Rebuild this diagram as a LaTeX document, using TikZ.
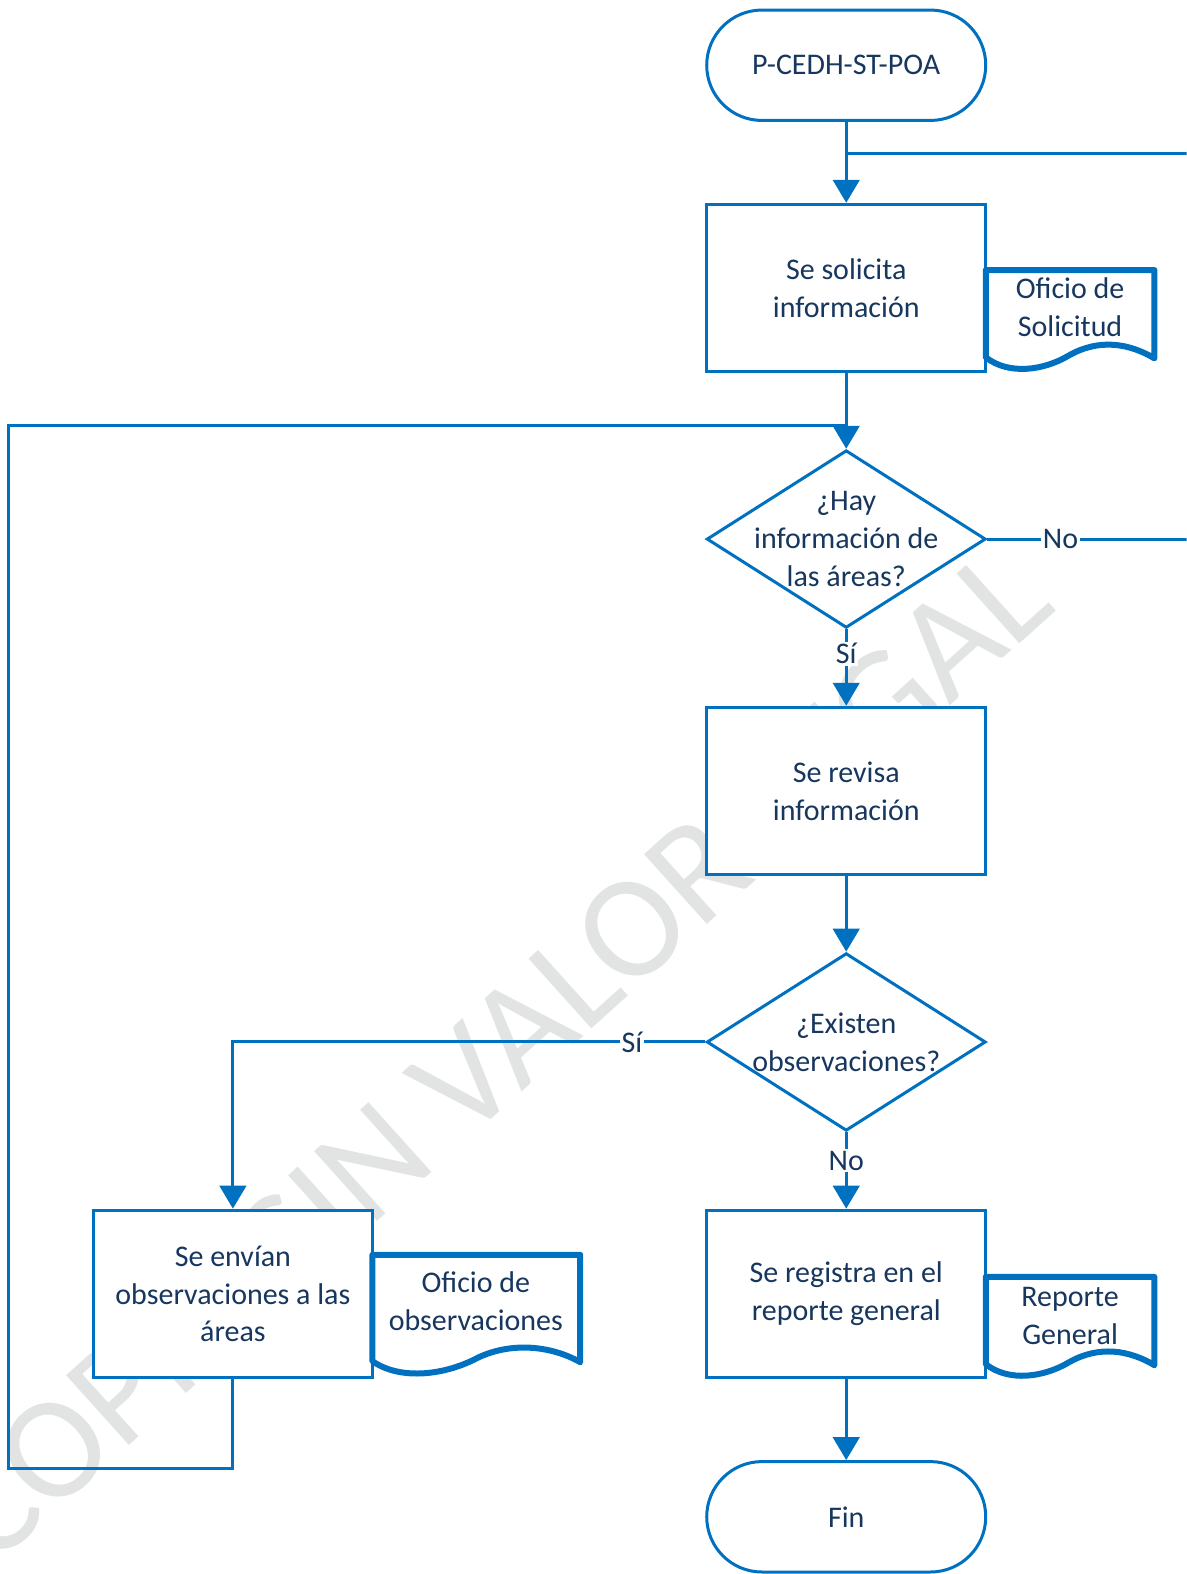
\documentclass[tikz,border=0pt]{standalone}
\usepackage{fontspec}
\setmainfont{Carlito}
\usetikzlibrary{arrows.meta,shapes.geometric}
\definecolor{fblue}{HTML}{0070C0}
\definecolor{ftext}{HTML}{17375E}
\definecolor{wm}{HTML}{E2E3E3}
\begin{document}
\begin{tikzpicture}[x=0.02cm,y=-0.02cm,
 every node/.style={font=\fontsize{17}{21.5}\selectfont, text=ftext, align=center},
 boxstyle/.style={draw=fblue, line width=1.7pt, fill=white, minimum width=5.56cm, minimum height=3.34cm, inner sep=0pt},
 termstyle/.style={draw=fblue, line width=1.7pt, fill=white, minimum width=5.56cm, minimum height=2.2cm, rounded corners=1.1cm},
 diastyle/.style={diamond, draw=fblue, line width=1.7pt, fill=white, minimum width=5.56cm, minimum height=3.54cm, inner sep=0pt},
 conn/.style={draw=fblue, line width=1.7pt},
 arr/.style={conn, -{Triangle[width=15pt,length=13pt]}},
 lbl/.style={fill=white, inner sep=1pt},
 docline/.style={draw=fblue, line width=3.4pt, fill=white, line join=round},
 wmstyle/.style={rotate=42, text=wm, font=\fontsize{83}{86}\selectfont},
]
\useasboundingbox (0,0) rectangle (1182,1568);
\clip (0,0) rectangle (1182,1568);
\node[wmstyle] (wmk) at (492,1050) {COPIA SIN VALOR LEGAL};

\node[termstyle] (start) at (843,65) {P-CEDH-ST-POA};
\node[boxstyle] (b1) at (843,287) {Se solicita\\información};
\node[diastyle] (d1) at (843,537) {};
\node (t1) at (d1.center) {¿Hay\\información de\\las áreas?};
\node[boxstyle] (b2) at (843,788) {Se revisa\\información};
\node[diastyle] (d2) at (843,1038) {};
\node (t2) at (d2.center) {¿Existen\\observaciones?};
\node[boxstyle] (b3) at (232,1289) {Se envían\\observaciones a las\\áreas};
\node[boxstyle] (b4) at (843,1289) {Se registra en el\\reporte general};
\node[termstyle] (fin) at (843,1511) {Fin};

% documents
\draw[docline] (982,269) -- (1150,269) -- (1150,357) .. controls (1125,342) and (1095,337) .. (1065,354) .. controls (1040,369) and (1005,374) .. (982,356) -- cycle;
\node (o1) at (1066,306) {Oficio de\\Solicitud};
\draw[docline] (371,1250) -- (578,1250) -- (578,1357) .. controls (550,1341) and (510,1336) .. (475,1353) .. controls (445,1369) and (400,1376) .. (371,1356) -- cycle;
\node (o2) at (474,1296) {Oficio de\\observaciones};
\draw[docline] (982,1272) -- (1150,1272) -- (1150,1360) .. controls (1125,1345) and (1095,1340) .. (1065,1357) .. controls (1040,1372) and (1005,1377) .. (982,1359) -- cycle;
\node (o3) at (1066,1311) {Reporte\\General};

% connectors
\coordinate (j1) at (843,153);
\coordinate (j2) at (843,424);
\draw[arr] (start) -- (b1);
\draw[conn] (d1.east) -- node[lbl,pos=0.35]{No} (1192,537) -- (1192,153) -- (j1);
\draw[arr] (b1) -- (d1);
\draw[conn] (b3.south) -- (232,1463) -- (8,1463) -- (8,424) -- (j2);
\draw[arr] (d1) -- node[lbl,pos=0.32]{Sí} (b2);
\draw[arr] (b2) -- (d2);
\draw[arr] (d2.west) -- node[lbl,pos=0.155]{Sí} (b3.north |- d2.west) -- (b3.north);
\draw[arr] (d2) -- node[lbl,pos=0.37]{No} (b4);
\draw[arr] (b4) -- (fin);
\end{tikzpicture}
\end{document}
